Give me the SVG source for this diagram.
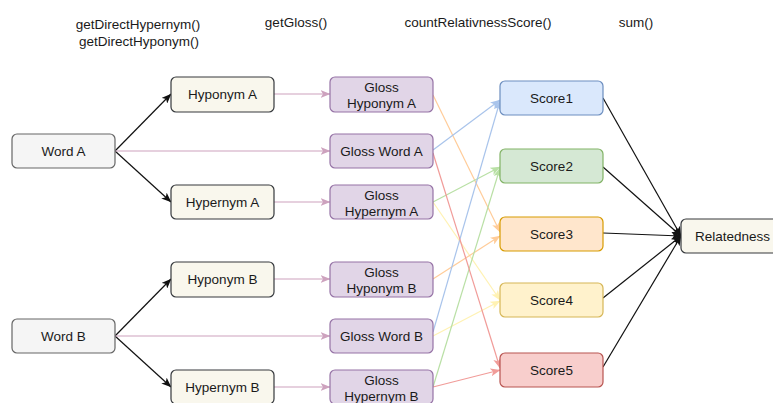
<svg xmlns="http://www.w3.org/2000/svg" width="773" height="403" viewBox="0 0 773 403">
  <style>
    text { font-family: "Liberation Sans", Arial, sans-serif; font-size: 13.5px; fill: #1a1a1a; text-anchor: middle; dominant-baseline: central; }
    .box { stroke-width: 1.2; }
    .word { fill: #f5f5f5; stroke: #666666; }
    .rel { fill: #f9f7ed; stroke: #36393d; }
    .gloss { fill: #e1d5e7; stroke: #9673a6; }
    .s1 { fill: #dae8fc; stroke: #6c8ebf; }
    .s2 { fill: #d5e8d4; stroke: #82b366; }
    .s3 { fill: #ffe6cc; stroke: #d79b00; }
    .s4 { fill: #fff2cc; stroke: #d6b656; }
    .s5 { fill: #f8cecc; stroke: #b85450; }
    .e { fill: none; stroke-width: 1.2; }
    .k { stroke: #111111; marker-end: url(#ak); }
    .p { stroke: #cda2be; marker-end: url(#ap); }
    .b { stroke: #a9c4eb; marker-end: url(#ab); }
    .g { stroke: #b9e0a5; marker-end: url(#ag); }
    .o { stroke: #ffcc99; marker-end: url(#ao); }
    .y { stroke: #fff2b3; marker-end: url(#ay); }
    .r { stroke: #f19c99; marker-end: url(#ar); }
  </style>
  <defs>
    <marker id="ak" viewBox="0 0 10 8" refX="9.5" refY="4" markerWidth="10" markerHeight="8" markerUnits="userSpaceOnUse" orient="auto"><path d="M0,0 L10,4 L0,8 L2.5,4 Z" fill="#111111"/></marker>
    <marker id="ap" viewBox="0 0 10 8" refX="9.5" refY="4" markerWidth="10" markerHeight="8" markerUnits="userSpaceOnUse" orient="auto"><path d="M0,0 L10,4 L0,8 L2.5,4 Z" fill="#cda2be"/></marker>
    <marker id="ab" viewBox="0 0 10 8" refX="9.5" refY="4" markerWidth="10" markerHeight="8" markerUnits="userSpaceOnUse" orient="auto"><path d="M0,0 L10,4 L0,8 L2.5,4 Z" fill="#a9c4eb"/></marker>
    <marker id="ag" viewBox="0 0 10 8" refX="9.5" refY="4" markerWidth="10" markerHeight="8" markerUnits="userSpaceOnUse" orient="auto"><path d="M0,0 L10,4 L0,8 L2.5,4 Z" fill="#b9e0a5"/></marker>
    <marker id="ao" viewBox="0 0 10 8" refX="9.5" refY="4" markerWidth="10" markerHeight="8" markerUnits="userSpaceOnUse" orient="auto"><path d="M0,0 L10,4 L0,8 L2.5,4 Z" fill="#ffcc99"/></marker>
    <marker id="ay" viewBox="0 0 10 8" refX="9.5" refY="4" markerWidth="10" markerHeight="8" markerUnits="userSpaceOnUse" orient="auto"><path d="M0,0 L10,4 L0,8 L2.5,4 Z" fill="#fff2b3"/></marker>
    <marker id="ar" viewBox="0 0 10 8" refX="9.5" refY="4" markerWidth="10" markerHeight="8" markerUnits="userSpaceOnUse" orient="auto"><path d="M0,0 L10,4 L0,8 L2.5,4 Z" fill="#f19c99"/></marker>
  </defs>

  <rect width="773" height="403" fill="#ffffff"/>

  <!-- column headings -->
  <g id="headings">
    <text x="138" y="24">getDirectHypernym()</text>
    <text x="139" y="41">getDirectHyponym()</text>
    <text x="296" y="22">getGloss()</text>
    <text x="478" y="22">countRelativnessScore()</text>
    <text x="636" y="22">sum()</text>
  </g>

  <!-- connectors -->
  <g id="connectors">
    <line class="e k" x1="115" y1="151" x2="171" y2="94"/>
    <line class="e k" x1="115" y1="151" x2="171" y2="202"/>
    <line class="e k" x1="115" y1="336" x2="171" y2="279"/>
    <line class="e k" x1="115" y1="336" x2="171" y2="387"/>

    <line class="e p" x1="274" y1="94" x2="330" y2="94"/>
    <line class="e p" x1="115" y1="151" x2="330" y2="151"/>
    <line class="e p" x1="274" y1="202" x2="330" y2="202"/>
    <line class="e p" x1="274" y1="279" x2="330" y2="279"/>
    <line class="e p" x1="115" y1="336" x2="330" y2="336"/>
    <line class="e p" x1="274" y1="387" x2="330" y2="387"/>

    <line class="e y" x1="433" y1="202" x2="500" y2="300"/>
    <line class="e y" x1="433" y1="336" x2="500" y2="301"/>
    <line class="e o" x1="433" y1="95" x2="500" y2="232"/>
    <line class="e o" x1="433" y1="279" x2="500" y2="236"/>
    <line class="e g" x1="433" y1="202" x2="500" y2="167"/>
    <line class="e g" x1="433" y1="387" x2="500" y2="168"/>
    <line class="e b" x1="433" y1="150" x2="500" y2="100"/>
    <line class="e b" x1="433" y1="332" x2="500" y2="101"/>
    <line class="e r" x1="433" y1="153" x2="500" y2="368"/>
    <line class="e r" x1="433" y1="387" x2="500" y2="370"/>

    <line class="e k" x1="603" y1="98" x2="681" y2="236"/>
    <line class="e k" x1="603" y1="167" x2="681" y2="236"/>
    <line class="e k" x1="603" y1="233" x2="681" y2="236"/>
    <line class="e k" x1="603" y1="298" x2="681" y2="236"/>
    <line class="e k" x1="603" y1="367" x2="681" y2="236"/>
  </g>

  <!-- words -->
  <g id="word-a"><rect class="box word" x="12" y="134" width="103" height="34" rx="5"/><text x="63.5" y="151">Word A</text></g>
  <g id="word-b"><rect class="box word" x="12" y="319" width="103" height="34" rx="5"/><text x="63.5" y="336">Word B</text></g>

  <!-- hyponyms / hypernyms -->
  <g id="hyponym-a"><rect class="box rel" x="171" y="77" width="103" height="35" rx="5"/><text x="222.5" y="94.5">Hyponym A</text></g>
  <g id="hypernym-a"><rect class="box rel" x="171" y="185" width="103" height="34" rx="5"/><text x="222.5" y="202">Hypernym A</text></g>
  <g id="hyponym-b"><rect class="box rel" x="171" y="262" width="103" height="35" rx="5"/><text x="222.5" y="279.5">Hyponym B</text></g>
  <g id="hypernym-b"><rect class="box rel" x="171" y="370" width="103" height="34" rx="5"/><text x="222.5" y="387">Hypernym B</text></g>

  <!-- glosses -->
  <g id="gloss-hyponym-a"><rect class="box gloss" x="330" y="77" width="103" height="35" rx="5"/><text x="381.5" y="87">Gloss</text><text x="381.5" y="103">Hyponym A</text></g>
  <g id="gloss-word-a"><rect class="box gloss" x="330" y="134" width="103" height="34" rx="5"/><text x="381.5" y="151">Gloss Word A</text></g>
  <g id="gloss-hypernym-a"><rect class="box gloss" x="330" y="185" width="103" height="34" rx="5"/><text x="381.5" y="195">Gloss</text><text x="381.5" y="211">Hypernym A</text></g>
  <g id="gloss-hyponym-b"><rect class="box gloss" x="330" y="262" width="103" height="35" rx="5"/><text x="381.5" y="272">Gloss</text><text x="381.5" y="288">Hyponym B</text></g>
  <g id="gloss-word-b"><rect class="box gloss" x="330" y="319" width="103" height="34" rx="5"/><text x="381.5" y="336">Gloss Word B</text></g>
  <g id="gloss-hypernym-b"><rect class="box gloss" x="330" y="370" width="103" height="34" rx="5"/><text x="381.5" y="380">Gloss</text><text x="381.5" y="396">Hypernym B</text></g>

  <!-- scores -->
  <g id="score1"><rect class="box s1" x="500" y="81" width="103" height="34" rx="5"/><text x="551.5" y="98">Score1</text></g>
  <g id="score2"><rect class="box s2" x="500" y="149" width="103" height="34" rx="5"/><text x="551.5" y="166">Score2</text></g>
  <g id="score3"><rect class="box s3" x="500" y="217" width="103" height="34" rx="5"/><text x="551.5" y="234">Score3</text></g>
  <g id="score4"><rect class="box s4" x="500" y="283" width="103" height="34" rx="5"/><text x="551.5" y="300">Score4</text></g>
  <g id="score5"><rect class="box s5" x="500" y="353" width="103" height="34" rx="5"/><text x="551.5" y="370">Score5</text></g>

  <!-- result -->
  <g id="relatedness"><rect class="box rel" x="681" y="219" width="103" height="34" rx="5"/><text x="732.5" y="236">Relatedness</text></g>
</svg>
